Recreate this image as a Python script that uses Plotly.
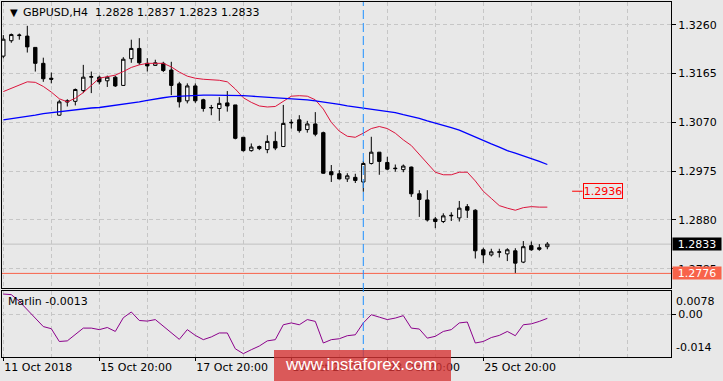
import plotly.graph_objects as go

# ---------------- data ----------------
bar_index = list(range(69))

opens = [1.3199, 1.3229, 1.3239, 1.3238, 1.3216, 1.3185, 1.3156, 1.3084, 1.3112, 1.3111,
         1.3132, 1.3158, 1.3158, 1.3151, 1.3158, 1.3142, 1.3194, 1.3214, 1.3185, 1.3181,
         1.3185, 1.3172, 1.3145, 1.3112, 1.3141, 1.3114, 1.3098, 1.3097, 1.3108, 1.3104,
         1.3041, 1.3015, 1.3023, 1.3017, 1.3033, 1.3023, 1.3069, 1.3075, 1.3056, 1.3067,
         1.3050, 1.2974, 1.2970, 1.2960, 1.2963, 1.2954, 1.2990, 1.3012, 1.2992, 1.2981,
         1.2978, 1.2983, 1.2931, 1.2919, 1.2882, 1.2877, 1.2888, 1.2884, 1.2906, 1.2899,
         1.2822, 1.2812, 1.2817, 1.2814, 1.2820, 1.2798, 1.2830, 1.2826, 1.2828]
highs = [1.3240, 1.3243, 1.3243, 1.3258, 1.3216, 1.3196, 1.3167, 1.3114, 1.3115, 1.3136,
         1.3182, 1.3169, 1.3161, 1.3161, 1.3161, 1.3197, 1.3231, 1.3234, 1.3195, 1.3192,
         1.3188, 1.3188, 1.3149, 1.3146, 1.3146, 1.3116, 1.3104, 1.3119, 1.3131, 1.3104,
         1.3041, 1.3029, 1.3025, 1.3045, 1.3052, 1.3104, 1.3076, 1.3084, 1.3073, 1.3090,
         1.3052, 1.2987, 1.2977, 1.2971, 1.2970, 1.2995, 1.3042, 1.3012, 1.3003, 1.2988,
         1.2988, 1.2984, 1.2938, 1.2938, 1.2886, 1.2893, 1.2895, 1.2917, 1.2911, 1.2901,
         1.2826, 1.2824, 1.2824, 1.2825, 1.2825, 1.2839, 1.2838, 1.2833, 1.2837]
lows = [1.3195, 1.3225, 1.3231, 1.3206, 1.3169, 1.3149, 1.3146, 1.3083, 1.3101, 1.3103,
        1.3127, 1.3127, 1.3144, 1.3139, 1.3139, 1.3141, 1.3186, 1.3182, 1.3169, 1.3180,
        1.3168, 1.3123, 1.3099, 1.3107, 1.3108, 1.3091, 1.3084, 1.3073, 1.3091, 1.3037,
        1.3013, 1.3013, 1.3016, 1.3010, 1.3016, 1.3022, 1.3058, 1.3050, 1.3050, 1.3043,
        1.2970, 1.2954, 1.2959, 1.2954, 1.2952, 1.2935, 1.2988, 1.2968, 1.2977, 1.2974,
        1.2973, 1.2925, 1.2886, 1.2877, 1.2864, 1.2874, 1.2878, 1.2877, 1.2884, 1.2805,
        1.2796, 1.2809, 1.2807, 1.2800, 1.2776, 1.2796, 1.2820, 1.2820, 1.2823]
closes = [1.3232, 1.3241, 1.3240, 1.3217, 1.3185, 1.3155, 1.3154, 1.3110, 1.3110, 1.3134,
          1.3158, 1.3159, 1.3149, 1.3158, 1.3141, 1.3193, 1.3214, 1.3186, 1.3180, 1.3186,
          1.3171, 1.3142, 1.3110, 1.3141, 1.3112, 1.3097, 1.3099, 1.3107, 1.3102, 1.3039,
          1.3015, 1.3022, 1.3019, 1.3033, 1.3020, 1.3068, 1.3070, 1.3054, 1.3067, 1.3047,
          1.2971, 1.2968, 1.2960, 1.2966, 1.2957, 1.2990, 1.3012, 1.2994, 1.2979, 1.2980,
          1.2985, 1.2931, 1.2920, 1.2880, 1.2877, 1.2888, 1.2889, 1.2903, 1.2899, 1.2820,
          1.2812, 1.2818, 1.2818, 1.2822, 1.2796, 1.2828, 1.2822, 1.2823, 1.2833]

ma_fast = [1.3130, 1.3136, 1.3143, 1.3149, 1.3148, 1.3140, 1.3129, 1.3116, 1.3110, 1.3117,
           1.3128, 1.3143, 1.3156, 1.3159, 1.3162, 1.3169, 1.3177, 1.3182, 1.3185, 1.3185,
           1.3185, 1.3178, 1.3168, 1.3160, 1.3156, 1.3154, 1.3153, 1.3152, 1.3149, 1.3135,
           1.3118, 1.3109, 1.3102, 1.3100, 1.3101, 1.3111, 1.3121, 1.3122, 1.3121, 1.3114,
           1.3096, 1.3070, 1.3053, 1.3043, 1.3041, 1.3049, 1.3058, 1.3062, 1.3058, 1.3049,
           1.3036, 1.3025, 1.3008, 1.2989, 1.2973, 1.2968, 1.2968, 1.2973, 1.2973, 1.2956,
           1.2936, 1.2922, 1.2908, 1.2903, 1.2899, 1.2904, 1.2906, 1.2905, 1.2905]
ma_slow = [1.3075, 1.3077, 1.3080, 1.3082, 1.3084, 1.3087, 1.3089, 1.3091, 1.3093, 1.3094,
           1.3096, 1.3098, 1.3099, 1.3101, 1.3103, 1.3105, 1.3108, 1.3110, 1.3113, 1.3116,
           1.3118, 1.3120, 1.3121, 1.3122, 1.3122, 1.3123, 1.3123, 1.3123, 1.3123, 1.3123,
           1.3122, 1.3121, 1.3120, 1.3119, 1.3118, 1.3118, 1.3117, 1.3116, 1.3114, 1.3112,
           1.3110, 1.3107, 1.3105, 1.3102, 1.3100, 1.3097, 1.3096, 1.3094, 1.3092, 1.3089,
           1.3085, 1.3082, 1.3078, 1.3073, 1.3069, 1.3064, 1.3060, 1.3055, 1.3048, 1.3041,
           1.3034, 1.3028, 1.3022, 1.3015, 1.3010, 1.3005, 1.3000, 1.2994, 1.2988]
marlin = [0.0067, 0.0065, 0.0043, 0.0015, -0.0014, -0.0040, -0.0047, -0.0089, -0.0087, -0.0065,
          -0.0045, -0.0045, -0.0050, -0.0043, -0.0056, -0.0011, 0.0008, -0.0020, -0.0022, -0.0017,
          -0.0039, -0.0060, -0.0082, -0.0050, -0.0069, -0.0083, -0.0074, -0.0061, -0.0061, -0.0113,
          -0.0129, -0.0116, -0.0104, -0.0087, -0.0083, -0.0034, -0.0028, -0.0034, -0.0017, -0.0023,
          -0.0094, -0.0083, -0.0080, -0.0070, -0.0067, -0.0028, -0.0001, -0.0009, -0.0017, -0.0012,
          -0.0004, -0.0045, -0.0048, -0.0078, -0.0072, -0.0056, -0.0050, -0.0028, -0.0025, -0.0094,
          -0.0089, -0.0076, -0.0069, -0.0056, -0.0070, -0.0034, -0.0031, -0.0023, -0.0013]

date_tick_bars = [0, 12, 24, 36, 48, 60]
date_tick_labels = ["11 Oct 2018", "15 Oct 20:00", "17 Oct 20:00",
                    "19 Oct 20:00", "23 Oct 20:00", "25 Oct 20:00"]
minor_grid_bars = [6, 18, 30, 42, 54, 66, 72, 78]
price_ticks = [1.3260, 1.3165, 1.3070, 1.2975, 1.2880, 1.2785]
osc_top, osc_bottom = 0.0078, -0.014
symbol = "GBPUSD,H4"
last_price = 1.2833
support_level = 1.2776
label_level = 1.2936
marker_bar = 45
watermark = "www.instaforex.com"

# ---------------- styling ----------------
BG = "#E8E8E8"
GRID = "#C6C6C6"
GDASH = "4px,3px"
FONT = "DejaVu Sans"
W, H = 723, 381
ML, MR, MT, MB = 2, 52, 2, 24
PW, PH = W - ML - MR, H - MT - MB
XR = [-0.1625, 83.46]


def px_x(p):
    return (p - ML) / PW


def px_y(p):
    return (H - MB - p) / PH


fig = go.Figure()
fig.add_trace(go.Candlestick(
    x=bar_index, open=opens, high=highs, low=lows, close=closes,
    xaxis="x", yaxis="y", whiskerwidth=0, hoverinfo="skip",
    increasing=dict(line=dict(color="black", width=1), fillcolor="white"),
    decreasing=dict(line=dict(color="black", width=1), fillcolor="black"),
))
fig.add_trace(go.Scatter(x=bar_index, y=ma_fast, mode="lines", xaxis="x", yaxis="y",
                         line=dict(color="#DC143C", width=1), hoverinfo="skip"))
fig.add_trace(go.Scatter(x=bar_index, y=ma_slow, mode="lines", xaxis="x", yaxis="y",
                         line=dict(color="#0000FF", width=1.3), hoverinfo="skip"))
fig.add_trace(go.Scatter(x=bar_index, y=marlin, mode="lines", xaxis="x2", yaxis="y2",
                         line=dict(color="#8B008B", width=1), hoverinfo="skip"))

axis_common = dict(showline=True, mirror=True, linecolor="black", linewidth=1,
                   zeroline=False, showgrid=True, gridcolor=GRID, griddash=GDASH,
                   gridwidth=1, fixedrange=True,
                   tickfont=dict(family=FONT, size=11, color="black"), tickcolor="black")

fig.update_layout(
    width=W, height=H, margin=dict(l=ML, r=MR, t=MT, b=MB, pad=0),
    paper_bgcolor=BG, plot_bgcolor=BG, showlegend=False, boxgap=0.4,
    font=dict(family=FONT, size=11, color="black"),
    xaxis=dict(domain=[0, 1], anchor="y", range=XR, tickmode="array",
               tickvals=[0] + [6 * k for k in range(1, 14)], showticklabels=False, ticks="",
               rangeslider=dict(visible=False), **axis_common),
    yaxis=dict(domain=[0.1944, 1], anchor="x", side="right", range=[1.27476, 1.33044],
               tickmode="array", tickvals=price_ticks,
               ticktext=[f"{v:.4f}" for v in price_ticks],
               ticks="outside", ticklen=4, **axis_common),
    xaxis2=dict(domain=[0, 1], anchor="y2", range=XR, tickmode="array",
                tickvals=date_tick_bars, ticktext=date_tick_labels,
                ticks="outside", ticklen=3, ticklabelposition="outside right",
                minor=dict(tickmode="array", tickvals=minor_grid_bars, showgrid=True,
                           gridcolor=GRID, griddash=GDASH, ticks=""),
                **axis_common),
    yaxis2=dict(domain=[0, 0.1868], anchor="x2", side="right", range=[osc_bottom, osc_top],
                tickmode="array", tickvals=[0], ticktext=["0.00"],
                ticks="outside", ticklen=4, **axis_common),
)

shapes = [
    dict(type="line", xref="paper", x0=0, x1=1, yref="y", y0=last_price, y1=last_price,
         line=dict(color="#C0C0C0", width=1), layer="below"),
    dict(type="line", xref="paper", x0=0, x1=1, yref="y", y0=support_level, y1=support_level,
         line=dict(color="#F8634A", width=1), layer="above"),
    dict(type="line", xref="x", x0=marker_bar, x1=marker_bar, yref="paper", y0=0, y1=1,
         line=dict(color="#1E90FF", width=1, dash="9px,4px"), layer="above"),
    dict(type="line", xref="x", x0=71.1, x1=72.4, yref="y", y0=label_level, y1=label_level,
         line=dict(color="#FF0000", width=1), layer="above"),
    dict(type="rect", xref="paper", yref="paper", x0=px_x(274), x1=px_x(451),
         y0=px_y(381), y1=px_y(350), fillcolor="rgba(214,52,52,0.8)",
         line=dict(width=0), layer="above"),
]

header = f"{symbol}\u00a0\u00a0{opens[-1]:.4f} {highs[-1]:.4f} {lows[-1]:.4f} {closes[-1]:.4f}"
annotations = [
    dict(text="\u25BC", xref="paper", yref="paper", x=px_x(8), y=px_y(12.5),
         xanchor="left", yanchor="middle", showarrow=False,
         font=dict(family=FONT, size=10, color="black")),
    dict(text=header, xref="paper", yref="paper", x=px_x(21), y=px_y(12.7),
         xanchor="left", yanchor="middle", showarrow=False,
         font=dict(family=FONT, size=11, color="black")),
    dict(text=f"Marlin {marlin[-1]:.4f}", xref="paper", yref="paper", x=px_x(6), y=px_y(301.5),
         xanchor="left", yanchor="middle", showarrow=False,
         font=dict(family=FONT, size=11, color="black")),
    dict(text=f"{osc_top:.4f}", xref="paper", yref="y2", x=px_x(674), y=osc_top,
         xanchor="left", yanchor="top", yshift=-2, showarrow=False,
         font=dict(family=FONT, size=11, color="black")),
    dict(text=f"{osc_bottom:.3f}", xref="paper", yref="y2", x=px_x(674), y=osc_bottom,
         xanchor="left", yanchor="bottom", yshift=1, showarrow=False,
         font=dict(family=FONT, size=11, color="black")),
    dict(text=f"{last_price:.4f}", xref="paper", yref="y", x=px_x(672), y=last_price,
         xanchor="left", yanchor="middle", showarrow=False, width=48, height=12,
         borderpad=0, bgcolor="black", font=dict(family=FONT, size=11, color="white")),
    dict(text=f"{support_level:.4f}", xref="paper", yref="y", x=px_x(672), y=support_level,
         xanchor="left", yanchor="middle", showarrow=False, width=48, height=12,
         borderpad=0, bgcolor="#F8634A", font=dict(family=FONT, size=11, color="white")),
    dict(text=f"{label_level:.4f}", xref="x", yref="y", x=72.4, y=label_level,
         xanchor="left", yanchor="middle", showarrow=False, width=38, height=14,
         borderpad=0, borderwidth=1, bordercolor="#FF0000", bgcolor=BG,
         font=dict(family=FONT, size=11, color="#FF0000")),
    dict(text=watermark, xref="paper", yref="paper", x=px_x(361), y=px_y(364),
         xanchor="center", yanchor="middle", showarrow=False,
         font=dict(family="Liberation Sans", size=17, color="white")),
]

fig.update_layout(shapes=shapes, annotations=annotations)
fig.write_html("out.html")
